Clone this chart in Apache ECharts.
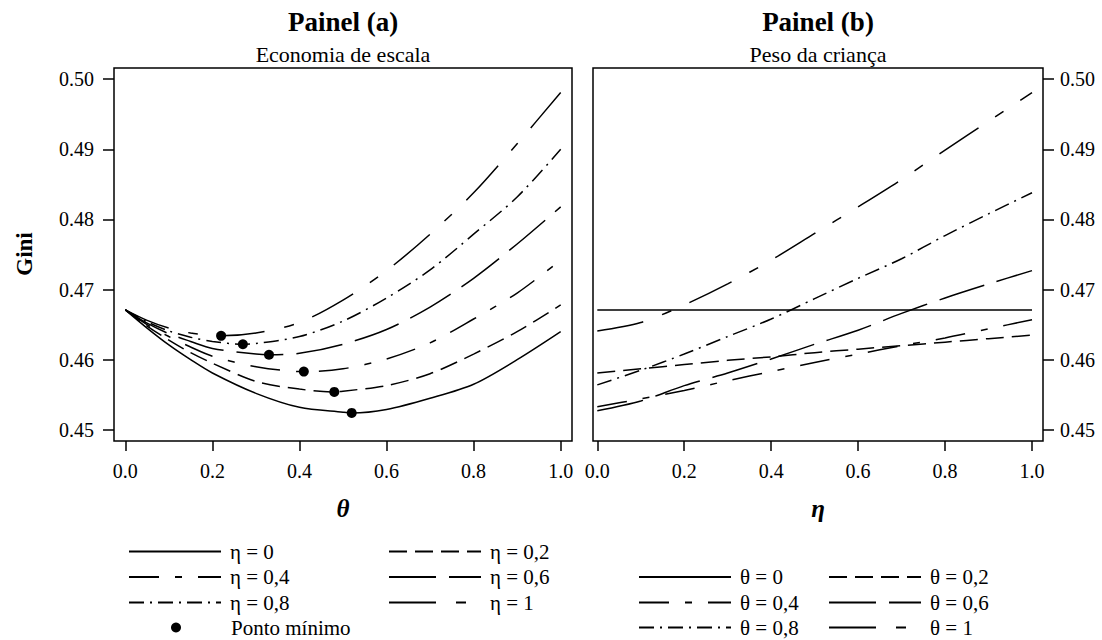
<!DOCTYPE html>
<html><head><meta charset="utf-8">
<script src="https://cdn.jsdelivr.net/npm/echarts@6/dist/echarts.min.js"></script>
<style>html,body{margin:0;padding:0;background:#fff}#c{width:1102px;height:640px}</style>
</head><body><div id="c"></div>
<script>
// ---------- DATA ----------
// Panel (a): Gini as a function of theta, one curve per eta
const thetaGrid = [0, 0.05, 0.1, 0.15, 0.2, 0.3, 0.4, 0.5, 0.6, 0.7, 0.8, 0.9, 1.0];
const etaNames = ['η = 0', 'η = 0,2', 'η = 0,4', 'η = 0,6', 'η = 0,8', 'η = 1'];
const giniEta0  = [0.4671, 0.4645, 0.4621, 0.4600, 0.4581, 0.4552, 0.4532, 0.4525, 0.4529, 0.4545, 0.4565, 0.4600, 0.4640];
const giniEta02 = [0.4671, 0.4648, 0.4628, 0.4610, 0.4595, 0.4569, 0.4558, 0.4555, 0.4563, 0.4580, 0.4608, 0.4640, 0.4678];
const giniEta04 = [0.4671, 0.4650, 0.4633, 0.4618, 0.4605, 0.4590, 0.4583, 0.4587, 0.4601, 0.4624, 0.4658, 0.4695, 0.4742];
const giniEta06 = [0.4671, 0.4652, 0.4637, 0.4626, 0.4616, 0.4608, 0.4609, 0.4622, 0.4643, 0.4675, 0.4716, 0.4765, 0.4818];
const giniEta08 = [0.4671, 0.4654, 0.4641, 0.4632, 0.4626, 0.4623, 0.4633, 0.4655, 0.4688, 0.4728, 0.4779, 0.4832, 0.4900];
const giniEta1  = [0.4671, 0.4656, 0.4645, 0.4638, 0.4635, 0.4638, 0.4653, 0.4685, 0.4727, 0.4779, 0.4838, 0.4908, 0.4981];
// minimum points (one per eta curve)
const thetaMin = [0.52, 0.48, 0.41, 0.33, 0.27, 0.22];
const giniMin  = [0.4524, 0.4554, 0.4583, 0.4607, 0.4622, 0.4634];
const minName = 'Ponto mínimo';

// Panel (b): Gini as a function of eta, one line per theta
const etaGrid = [0, 0.1, 0.2, 0.3, 0.4, 0.5, 0.6, 0.7, 0.8, 0.9, 1.0];
const thetaNames = ['θ = 0', 'θ = 0,2', 'θ = 0,4', 'θ = 0,6', 'θ = 0,8', 'θ = 1'];
const giniTheta0  = [0.4671, 0.4671, 0.4671, 0.4671, 0.4671, 0.4671, 0.4671, 0.4671, 0.4671, 0.4671, 0.4671];
const giniTheta02 = [0.4581, 0.4587, 0.4593, 0.4599, 0.4604, 0.4610, 0.4615, 0.4620, 0.4625, 0.4630, 0.4635];
const giniTheta04 = [0.4533, 0.4544, 0.4556, 0.4570, 0.4583, 0.4596, 0.4608, 0.4620, 0.4631, 0.4644, 0.4657];
const giniTheta06 = [0.4527, 0.4541, 0.4563, 0.4581, 0.4601, 0.4622, 0.4642, 0.4666, 0.4688, 0.4708, 0.4727];
const giniTheta08 = [0.4564, 0.4585, 0.4608, 0.4633, 0.4658, 0.4687, 0.4716, 0.4744, 0.4777, 0.4808, 0.4838];
const giniTheta1  = [0.4641, 0.4653, 0.4678, 0.4708, 0.4742, 0.4780, 0.4818, 0.4857, 0.4899, 0.4940, 0.4981];

// tick labels
const xTicks = [0, 0.2, 0.4, 0.6, 0.8, 1.0];
const yTicks = [0.45, 0.46, 0.47, 0.48, 0.49, 0.50];

// ---------- STYLE ----------
const SERIF = '"Liberation Serif", "Times New Roman", serif';
const dashes = ['solid', [18, 8], [30, 16, 7, 16], [47, 13], [15, 6, 2, 6], [47, 20, 10, 20]];
const LW = 1.5;

const seriesA = [giniEta0, giniEta02, giniEta04, giniEta06, giniEta08, giniEta1];
const seriesB = [giniTheta0, giniTheta02, giniTheta04, giniTheta06, giniTheta08, giniTheta1];

function curveWithMin(vals, tm, gm) {
  const pts = thetaGrid.map((t, i) => [t, vals[i]]);
  pts.push([tm, gm]);
  pts.sort((a, b) => a[0] - b[0]);
  // drop grid points that nearly coincide with the minimum point
  return pts.filter(p => !(p[0] !== tm && Math.abs(p[0] - tm) < 0.015));
}

const series = [];
seriesA.forEach((vals, k) => {
  series.push({
    name: etaNames[k], type: 'line', xAxisIndex: 0, yAxisIndex: 0,
    data: curveWithMin(vals, thetaMin[k], giniMin[k]),
    symbol: 'none', showSymbol: false, smooth: 0.3,
    itemStyle: { color: '#000' },
    lineStyle: { color: '#000', width: LW, type: dashes[k] },
    silent: true
  });
});
series.push({
  name: minName, type: 'scatter', xAxisIndex: 0, yAxisIndex: 0,
  data: thetaMin.map((t, i) => [t, giniMin[i]]),
  symbol: 'circle', symbolSize: 10, itemStyle: { color: '#000', opacity: 1 }, z: 5, silent: true
});
seriesB.forEach((vals, k) => {
  series.push({
    name: thetaNames[k], type: 'line', xAxisIndex: 1, yAxisIndex: 1,
    data: etaGrid.map((e, i) => [e, vals[i]]),
    symbol: 'none', showSymbol: false, smooth: 0.3,
    itemStyle: { color: '#000' },
    lineStyle: { color: '#000', width: LW, type: dashes[k] },
    silent: true
  });
});

function xAxisCfg(idx, min, max) {
  return {
    type: 'value', gridIndex: idx, min: min, max: max,
    axisLine: { show: false, onZero: false },
    splitLine: { show: false },
    axisTick: { show: true, customValues: xTicks, length: 10, inside: false, lineStyle: { color: '#000', width: LW } },
    axisLabel: { customValues: xTicks, formatter: v => v.toFixed(1), margin: 20,
      fontFamily: SERIF, fontSize: 20, color: '#000' }
  };
}
function yAxisCfg(idx, pos, margin) {
  return {
    type: 'value', gridIndex: idx, position: pos, min: 0.4484, max: 0.5016,
    axisLine: { show: false, onZero: false },
    splitLine: { show: false },
    axisTick: { show: true, customValues: yTicks, length: 11, inside: false, lineStyle: { color: '#000', width: LW } },
    axisLabel: { customValues: yTicks, formatter: v => v.toFixed(2), margin: margin,
      fontFamily: SERIF, fontSize: 20, color: '#000' }
  };
}

// legends: one component per item
const legendRowsY = [553, 578.5, 604, 629];
const legends = [];
function addLegend(name, left, rowY, isDot) {
  const lg = {
    data: [name], left: left, top: rowY - 12, orient: 'horizontal',
    itemWidth: 92, itemHeight: isDot ? 10 : 12, itemGap: 0, padding: 0,
    selectedMode: false,
    textStyle: { fontFamily: SERIF, fontSize: 21, color: '#000', padding: [0, 0, 0, 4] }
  };
  if (!isDot) lg.itemStyle = { opacity: 0 };
  legends.push(lg);
}
etaNames.forEach((n, k) => addLegend(n, k % 2 === 0 ? 128 : 388, legendRowsY[Math.floor(k / 2)], false));
addLegend(minName, 171, legendRowsY[3], true);
thetaNames.forEach((n, k) => addLegend(n, k % 2 === 0 ? 638 : 828, legendRowsY[1 + Math.floor(k / 2)], false));

const option = {
  animation: false,
  backgroundColor: '#fff',
  color: ['#000'],
  grid: [
    { left: 114, top: 68, width: 458, height: 373, show: true, borderColor: '#000', borderWidth: LW, backgroundColor: 'transparent' },
    { left: 593, top: 68, width: 450, height: 373, show: true, borderColor: '#000', borderWidth: LW, backgroundColor: 'transparent' }
  ],
  xAxis: [xAxisCfg(0, -0.026, 1.026), xAxisCfg(1, -0.0099, 1.0253)],
  yAxis: [yAxisCfg(0, 'left', 20), yAxisCfg(1, 'right', 17)],
  legend: legends,
  series: series,
  graphic: [
    { type: 'text', x: 343, y: 22, style: { text: 'Painel (a)', fontFamily: SERIF, fontSize: 27, fontWeight: 'bold', fill: '#000', align: 'center', verticalAlign: 'middle' } },
    { type: 'text', x: 343, y: 54, style: { text: 'Economia de escala', fontFamily: SERIF, fontSize: 22, fill: '#000', align: 'center', verticalAlign: 'middle' } },
    { type: 'text', x: 818, y: 22, style: { text: 'Painel (b)', fontFamily: SERIF, fontSize: 27, fontWeight: 'bold', fill: '#000', align: 'center', verticalAlign: 'middle' } },
    { type: 'text', x: 818, y: 54, style: { text: 'Peso da criança', fontFamily: SERIF, fontSize: 22, fill: '#000', align: 'center', verticalAlign: 'middle' } },
    { type: 'text', x: 24, y: 254, rotation: Math.PI / 2, style: { text: 'Gini', fontFamily: SERIF, fontSize: 23, fontWeight: 'bold', fill: '#000', align: 'center', verticalAlign: 'middle' } },
    { type: 'text', x: 343, y: 508, style: { text: 'θ', fontFamily: SERIF, fontSize: 25, fontWeight: 'bold', fontStyle: 'italic', fill: '#000', align: 'center', verticalAlign: 'middle' } },
    { type: 'text', x: 818, y: 508, style: { text: 'η', fontFamily: SERIF, fontSize: 25, fontWeight: 'bold', fontStyle: 'italic', fill: '#000', align: 'center', verticalAlign: 'middle' } }
  ]
};

const chart = echarts.init(document.getElementById('c'), null, { renderer: 'svg', width: 1102, height: 640 });
chart.setOption(option);
</script>
</body></html>
